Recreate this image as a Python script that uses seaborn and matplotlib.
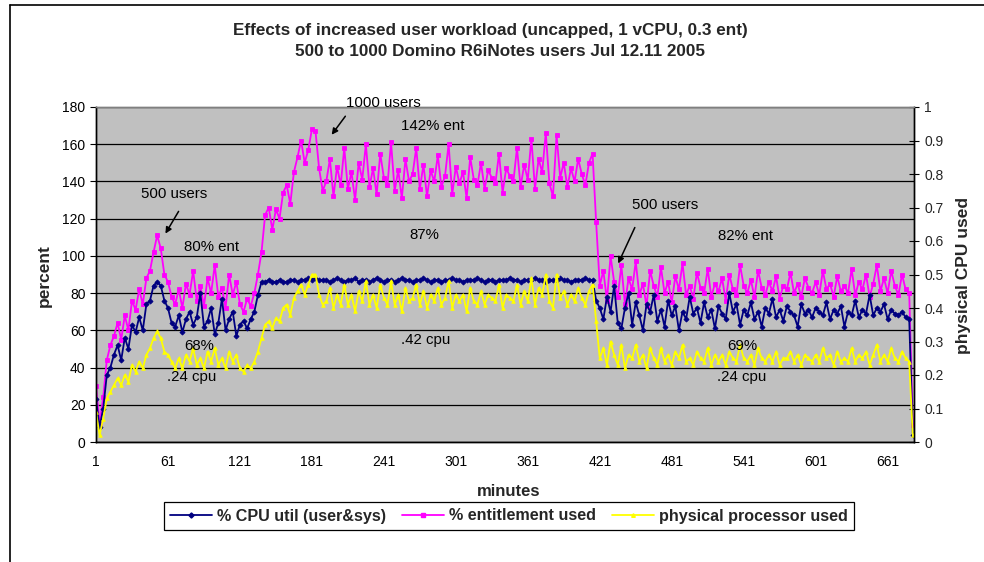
import matplotlib
matplotlib.use('Agg')
import matplotlib.pyplot as plt
from matplotlib.lines import Line2D
from matplotlib.patches import FancyArrowPatch
import pandas as pd
import seaborn as sns

# Chart text
title_1 = 'Effects of increased user workload (uncapped, 1 vCPU, 0.3 ent)'
title_2 = '500 to 1000 Domino R6iNotes users Jul 12.11 2005'
series_names = ['% CPU util (user&sys)', '% entitlement used', 'physical processor used']
x_tick_labels = [1, 61, 121, 181, 241, 301, 361, 421, 481, 541, 601, 661]
pct_ticks = [0, 20, 40, 60, 80, 100, 120, 140, 160, 180]
cpu_ticks = [0, 0.1, 0.2, 0.3, 0.4, 0.5, 0.6, 0.7, 0.8, 0.9, 1.0]
cpu_tick_labels = ['0', '0.1', '0.2', '0.3', '0.4', '0.5', '0.6', '0.7', '0.8', '0.9', '1']

# Values, one sample every 3 minutes (minute 1 .. 682)
cpu_util = [
    # ramp to 500 users
    23, 8, 18, 36, 40, 47, 52, 44, 56, 50, 63, 59, 67, 60, 74, 76, 84, 86, 84, 76,
    # 500 users
    72, 64, 62, 68, 59, 66, 70, 63, 67, 80, 62, 65, 72, 58, 64, 77, 60, 66, 70, 57,
    63, 65, 61, 66, 70,
    # ramp to 1000 users
    79, 86, 86, 87, 86, 86, 87, 86, 86, 87, 87, 86, 87, 87, 88, 87, 88, 87, 87,
    # 1000 users
    87, 86, 87, 88, 87, 86, 87, 87, 88, 86, 87, 87, 86, 87, 88,
    87, 86, 87, 87, 86, 87, 88, 87, 87, 86, 87, 87, 88, 87, 86,
    87, 87, 86, 87, 87, 88, 87, 87, 86, 87, 87, 87, 88, 87, 86,
    87, 87, 86, 87, 87, 87, 88, 87, 87, 86, 87, 87, 87, 88, 87,
    87, 86, 87, 87, 87, 88, 87, 87, 86, 87, 87, 87, 88, 87, 87,
    76,
    # back to 500 users
    72, 66, 78, 70, 84, 64, 61, 72, 80, 63, 75, 68, 60, 74, 70,
    79, 65, 71, 62, 76, 68, 73, 60, 70, 66, 78, 69, 72, 64, 75,
    67, 71, 61, 73, 69, 66, 80, 70, 74, 63, 71, 68, 75, 66, 70,
    62, 72, 69, 77, 67, 71, 65, 73, 70, 68, 62, 74, 69, 71, 67,
    72, 70, 68, 75, 66, 71, 69, 73, 62, 70, 68, 76, 67, 71, 69,
    79, 68, 72, 70, 74, 66, 71, 69, 68, 70, 67, 66,
    4,
]

entitlement = [
    30, 10, 24, 44, 52, 57, 64, 55, 68, 60, 76, 71, 82, 74, 88, 92, 102, 111, 104, 90,
    86, 78, 74, 82, 72, 85, 79, 92, 76, 84, 73, 88, 80, 95, 78, 83, 72, 90, 79, 86,
    74, 70, 77, 73, 80,
    90, 102, 122, 126, 114, 125, 120, 134, 138, 128, 145, 153, 162, 150, 157, 168, 167, 147, 135,
    140, 152, 132, 148, 138, 158, 136, 145, 130, 150, 141, 160, 137, 147, 133,
    155, 142, 138, 161, 135, 146, 131, 152, 140, 144, 158, 136, 149, 132, 146,
    140, 154, 137, 143, 160, 133, 148, 139, 145, 131, 153, 141, 138, 150, 136,
    146, 142, 139, 155, 134, 147, 143, 140, 158, 137, 149, 141, 163, 136, 152,
    145, 166, 139, 132, 165, 142, 150, 137, 147, 140, 152, 144, 138, 150, 155,
    118,
    84, 92, 76, 100, 86, 78, 95, 74, 88, 82, 97, 79, 85, 73, 92,
    84, 78, 94, 80, 86, 75, 89, 82, 96, 79, 84, 77, 91, 83, 80,
    93, 78, 85, 81, 88, 76, 90, 82, 79, 95, 84, 80, 87, 78, 92,
    83, 79, 86, 81, 89, 77, 84, 82, 91, 80, 85, 78, 88, 83, 80,
    86, 79, 92, 82, 85, 78, 89, 81, 84, 80, 93, 79, 86, 82, 90,
    78, 85, 95, 81, 88, 80, 92, 84, 79, 90, 82, 80,
    9,
]

physical_cpu = [
    0.09, 0.02, 0.07, 0.13, 0.15, 0.17, 0.19, 0.17, 0.20, 0.18,
    0.23, 0.21, 0.24, 0.22, 0.26, 0.28, 0.31, 0.33, 0.31, 0.27,
    0.26, 0.24, 0.22, 0.25, 0.22, 0.26, 0.24, 0.28, 0.23, 0.25,
    0.22, 0.27, 0.24, 0.28, 0.23, 0.25, 0.22, 0.27, 0.24, 0.26,
    0.22, 0.21, 0.23, 0.22, 0.24,
    0.27, 0.31, 0.35, 0.36, 0.34, 0.37, 0.36, 0.40, 0.41, 0.38,
    0.43, 0.45, 0.47, 0.44, 0.47, 0.50, 0.50, 0.44, 0.41,
    0.42, 0.46, 0.40, 0.44, 0.41, 0.47, 0.41, 0.44, 0.39, 0.45,
    0.42, 0.48, 0.41, 0.44, 0.40, 0.47, 0.43, 0.41, 0.48, 0.41,
    0.44, 0.39, 0.46, 0.42, 0.43, 0.47, 0.41, 0.45, 0.40, 0.44,
    0.42, 0.46, 0.41, 0.43, 0.48, 0.40, 0.44, 0.42, 0.44, 0.39,
    0.46, 0.42, 0.41, 0.45, 0.41, 0.44, 0.43, 0.42, 0.47, 0.40,
    0.44, 0.43, 0.42, 0.47, 0.41, 0.45, 0.42, 0.49, 0.41, 0.46,
    0.44, 0.50, 0.42, 0.40, 0.50, 0.43, 0.45, 0.41, 0.44, 0.42,
    0.46, 0.43, 0.41, 0.45, 0.47,
    0.36,
    0.25, 0.28, 0.23, 0.30, 0.26, 0.23, 0.29, 0.22, 0.26, 0.25,
    0.29, 0.24, 0.26, 0.22, 0.28, 0.25, 0.23, 0.28, 0.24, 0.26,
    0.23, 0.27, 0.25, 0.29, 0.24, 0.25, 0.23, 0.27, 0.25, 0.24,
    0.28, 0.23, 0.26, 0.24, 0.26, 0.23, 0.27, 0.25, 0.24, 0.29,
    0.25, 0.24, 0.26, 0.23, 0.28, 0.25, 0.24, 0.26, 0.24, 0.27,
    0.23, 0.25, 0.25, 0.27, 0.24, 0.26, 0.23, 0.26, 0.25, 0.24,
    0.26, 0.24, 0.28, 0.25, 0.26, 0.23, 0.27, 0.24, 0.25, 0.24,
    0.28, 0.24, 0.26, 0.25, 0.27, 0.23, 0.26, 0.29, 0.24, 0.26,
    0.24, 0.28, 0.25, 0.24, 0.27, 0.25, 0.24,
    0.02,
]

minutes = list(range(1, 683, 3))
assert len(cpu_util) == len(entitlement) == len(physical_cpu) == len(minutes)

df = pd.DataFrame({'minute': minutes, 'cpu_util': cpu_util,
                   'entitlement': entitlement, 'physical': physical_cpu})

sns.set_style('white')
plt.rcParams['font.family'] = ['Liberation Sans', 'DejaVu Sans']

W, H = 984, 562


def fx(x):
    return x / W


def fy(y):
    return 1 - y / H


fig = plt.figure(figsize=(9.84, 5.62), dpi=100)
fig.patch.set_facecolor('white')
ax = fig.add_axes([fx(96), fy(442), (914 - 96) / W, (442 - 107) / H])
ax.set_facecolor('#C0C0C0')
ax2 = ax.twinx()

navy, magenta, yellow = '#000080', '#FF00FF', '#FFFF00'
line_kw = dict(linewidth=1.3, markersize=2.6, markeredgewidth=0.6, legend=False)
sns.lineplot(data=df, x='minute', y='cpu_util', ax=ax, color=navy, marker='D',
             markeredgecolor=navy, zorder=3, **line_kw)
sns.lineplot(data=df, x='minute', y='entitlement', ax=ax, color=magenta, marker='s',
             markeredgecolor=magenta, zorder=2, **line_kw)
sns.lineplot(data=df, x='minute', y='physical', ax=ax2, color=yellow, marker='^',
             markeredgecolor=yellow, zorder=2, **line_kw)

ax.set_xlim(1, 683)
ax.set_ylim(0, 180)
ax2.set_ylim(0, 1)

ax.set_xticks(x_tick_labels)
ax.set_xticklabels([str(v) for v in x_tick_labels])
ax.set_xticks(list(range(1, 684, 10)), minor=True)
ax.set_yticks(pct_ticks)
ax2.set_yticks(cpu_ticks)
ax2.set_yticklabels(cpu_tick_labels)

ax.yaxis.grid(True, color='black', linewidth=0.9)
ax.xaxis.grid(False)
ax.set_axisbelow(True)

ax.tick_params(axis='both', which='both', direction='out', length=4, width=0.8,
               color='black', labelsize=10, labelcolor='black')
ax.tick_params(axis='x', which='major', pad=5)
ax2.tick_params(axis='y', direction='inout', length=7, width=0.8, color='black',
                labelsize=10, pad=4)

for a in (ax, ax2):
    for side in ('left', 'bottom', 'right'):
        a.spines[side].set_color('black')
        a.spines[side].set_linewidth(1)
    a.spines['top'].set_color('#808080')
    a.spines['top'].set_linewidth(1)

ax.set_xlabel('minutes', fontsize=12, fontweight='bold', va='center')
ax.set_ylabel('percent', fontsize=12.5, fontweight='bold', va='center')
ax2.set_ylabel('physical CPU used', fontsize=12.5, fontweight='bold', va='center')
ax.xaxis.set_label_coords((509 - 96) / 818, (442 - 492) / 335)
ax.yaxis.set_label_coords((44 - 96) / 818, (442 - 276) / 335)
ax2.yaxis.set_label_coords((963 - 96) / 818, (442 - 276) / 335)

# Title
fig.text(fx(490), fy(30), title_1, ha='center', va='center', fontsize=12.3, fontweight='bold')
fig.text(fx(500), fy(52), title_2, ha='center', va='center', fontsize=12.3, fontweight='bold')

# Notes on the chart
notes = [
    ('1000 users', 383, 103), ('142% ent', 433, 126), ('87%', 424, 235), ('.42 cpu', 426, 340),
    ('500 users', 174, 194), ('80% ent', 212, 247), ('68%', 199, 346), ('.24 cpu', 192, 377),
    ('500 users', 665, 205), ('82% ent', 746, 236), ('69%', 742, 346), ('.24 cpu', 742, 377),
]
for text, x, y in notes:
    fig.text(fx(x), fy(y), text, ha='center', va='center', fontsize=10.8, color='black')

arrows = [((347, 114), (330, 137)), ((180, 209), (164, 236)), ((636, 225), (617, 266))]
for (x0, y0), (x1, y1) in arrows:
    fig.add_artist(FancyArrowPatch(
        (fx(x0), fy(y0)), (fx(x1), fy(y1)), transform=fig.transFigure,
        arrowstyle='-|>', mutation_scale=9, color='black', linewidth=1.1))

# Legend below the plot
handles = [
    Line2D([], [], color=navy, marker='D', markersize=2.6, linewidth=1.3),
    Line2D([], [], color=magenta, marker='s', markersize=2.6, linewidth=1.3),
    Line2D([], [], color=yellow, marker='^', markersize=2.6, linewidth=1.3),
]
leg = fig.legend(handles, series_names, loc='center', bbox_to_anchor=(fx(509), fy(516)),
                 ncol=3, frameon=True, fancybox=False, framealpha=1, edgecolor='black',
                 handlelength=2.6, handletextpad=0.3, columnspacing=1.0, borderpad=0.4,
                 prop=dict(size=11.6, weight='bold'))
leg.get_frame().set_linewidth(0.9)

# Outer chart border (cut off at right and bottom)
fig.add_artist(Line2D([fx(10), 1], [fy(5), fy(5)], transform=fig.transFigure, color='black', lw=1.2))
fig.add_artist(Line2D([fx(10), fx(10)], [fy(5), 0], transform=fig.transFigure, color='black', lw=1.2))

fig.savefig('out.png', dpi=100)
